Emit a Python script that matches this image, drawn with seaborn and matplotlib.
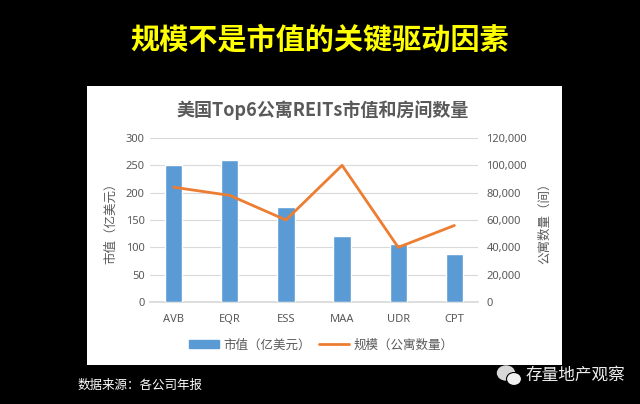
import numpy as np
import pandas as pd
import matplotlib
matplotlib.use("Agg")
import matplotlib.pyplot as plt
import matplotlib.patches as mpatches
from matplotlib.lines import Line2D
from matplotlib.ticker import FuncFormatter
import seaborn as sns

# data
companies = ["AVB", "EQR", "ESS", "MAA", "UDR", "CPT"]
market_cap = [251, 260, 173, 121, 106, 88]          # 亿美元
units = [84000, 78000, 60000, 100000, 40000, 56000]  # 公寓数量

df = pd.DataFrame({"company": companies, "cap": market_cap, "units": units})

sns.set_theme(style="white")
plt.rcParams["font.family"] = ["Noto Sans CJK SC", "DejaVu Sans"]

gray = "#595959"
bar_color = "#5B9BD5"
line_color = "#ED7D31"

fig = plt.figure(figsize=(6.4, 4.04), dpi=100)
fig.patch.set_facecolor("black")

# white panel behind the chart
panel = mpatches.Rectangle((87 / 640, 1 - 365 / 404), (562 - 87) / 640, (365 - 86) / 404,
                           transform=fig.transFigure, facecolor="white", edgecolor="none", zorder=-10)
fig.patches.append(panel)

fig.text(0.5, 1 - 40 / 404, "规模不是市值的关键驱动因素", color="#FFFF00",
         fontsize=21, fontweight="bold", ha="center", va="center")

ax = fig.add_axes([150 / 640, 1 - 302 / 404, (478 - 150) / 640, (302 - 138) / 404])
ax.set_facecolor("none")
sns.barplot(data=df, x="company", y="cap", color=bar_color, width=0.31, saturation=1, ax=ax, zorder=3)
ax.set_ylim(0, 300)
ax.set_yticks(np.arange(0, 301, 50))
ax.yaxis.grid(True, color="#D9D9D9", linewidth=0.8, zorder=0)
ax.set_axisbelow(True)
ax.set_xlabel("")
ax.set_ylabel("市值（亿美元）", color=gray, fontsize=9, labelpad=6)
ax.tick_params(axis="both", colors=gray, labelsize=8, length=0, pad=4)
ax.tick_params(axis="x", pad=9)
for s in ax.spines.values():
    s.set_visible(False)
ax.spines["bottom"].set_visible(True)
ax.spines["bottom"].set_color("#D9D9D9")

ax2 = ax.twinx()
sns.lineplot(x=np.arange(len(companies)), y=units, color=line_color, linewidth=2, ax=ax2, zorder=4)
ax2.set_ylim(0, 120000)
ax2.set_yticks(np.arange(0, 120001, 20000))
ax2.yaxis.set_major_formatter(FuncFormatter(lambda v, p: f"{int(v):,}"))
ax2.set_ylabel("公寓数量（间）", color=gray, fontsize=9, labelpad=8, rotation=90)
ax2.tick_params(axis="y", colors=gray, labelsize=8, length=0, pad=6)
for s in ax2.spines.values():
    s.set_visible(False)
ax2.grid(False)

# latin-only font for tick labels keeps them on one baseline
for lab in ax.get_xticklabels() + ax.get_yticklabels() + ax2.get_yticklabels():
    lab.set_fontfamily("Noto Sans")

fig.text(323 / 640, 1 - 110 / 404, "美国Top6公寓REITs市值和房间数量", color=gray,
         fontsize=13, fontweight="bold", ha="center", va="center")

handles = [mpatches.Patch(color=bar_color, label="市值（亿美元）"),
           Line2D([0], [0], color=line_color, linewidth=2, label="规模（公寓数量）")]
leg = fig.legend(handles=handles, loc="center", bbox_to_anchor=(321 / 640, 1 - 345 / 404), ncol=2,
                 frameon=False, fontsize=9, handlelength=2.4, handleheight=0.6, columnspacing=0.6,
                 handletextpad=0.4)
for t in leg.get_texts():
    t.set_color(gray)

fig.text(78 / 640, 1 - 385 / 404, "数据来源：各公司年报", color="white", fontsize=9, ha="left", va="center")

# wechat-like icon and watermark
icon_ax = fig.add_axes([496 / 640, 1 - 388 / 404, 28 / 640, 24 / 404])
icon_ax.set_xlim(0, 28)
icon_ax.set_ylim(0, 24)
icon_ax.axis("off")
icon_ax.add_patch(mpatches.Ellipse((10, 15), 17, 14, color="#D8D8D8"))
icon_ax.add_patch(mpatches.Ellipse((18, 9), 15, 13, color="#F0F0F0", ec="black", lw=0.8))
fig.text(525 / 640, 1 - 375 / 404, "存量地产观察", color="#EDEDED", fontsize=12, ha="left", va="center")

fig.savefig("out.png", dpi=100, facecolor=fig.get_facecolor())
